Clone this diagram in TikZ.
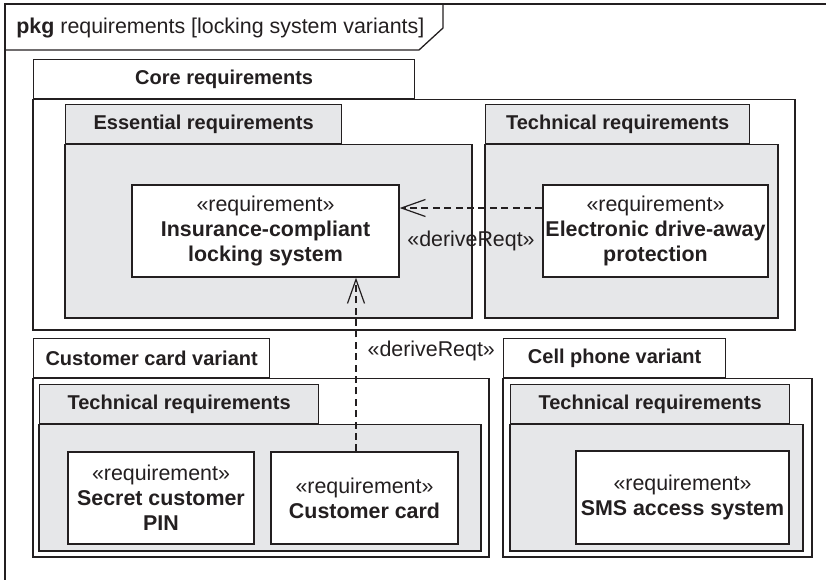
\documentclass[tikz,border=0pt]{standalone}
\usepackage{fontspec}
\setmainfont{Liberation Sans}
\usetikzlibrary{arrows.meta,positioning}
\definecolor{ink}{RGB}{35,31,32}
\definecolor{pkgfill}{RGB}{230,231,233}
\tikzset{
  tab/.style={draw=ink, fill=#1, line width=0.65pt, anchor=north west, inner sep=0pt,
              minimum height=19.5pt, font=\bfseries},
  tab/.default=white,
  body/.style={draw=ink, fill=#1, line width=0.65pt},
  body/.default=white,
  req/.style={draw=ink, fill=white, line width=0.65pt, align=center, inner sep=0pt,
              minimum width=#1, minimum height=46pt},
  req/.default=100pt,
  derive/.style={-{Straight Barb[length=12pt, width=8.5pt]}, ink, line width=0.6pt,
                 dash pattern=on 3.5pt off 2.2pt},
  lbl/.style={text=ink, inner sep=0pt},
}

\begin{document}
\begin{tikzpicture}[x=0.5pt, y=-0.5pt, text=ink, font=\fontsize{10.7}{12.5}\selectfont]
  \useasboundingbox (0,0) rectangle (826,580);
  % frame
  \draw[ink, line width=0.65pt] (826,4) -- (5,4) -- (5,580);
  \draw[ink, line width=0.65pt] (443,4) -- (443,28) -- (419,50) -- (5,50);
  \node[lbl, anchor=west] (frame) at (16,28) {\textbf{pkg} requirements [locking system variants]};

  % core requirements
  \node[tab, minimum width=190.5pt] (coretab) at (33,59) {Core requirements};
  \draw[body] (coretab.south west) rectangle (795,330);
  \node[tab=pkgfill, minimum width=138pt] (esstab) at (65,104) {Essential requirements};
  \draw[body=pkgfill] (esstab.south west) rectangle (472,318);
  \node[tab=pkgfill, minimum width=132pt] (techtab) at (485,104) {Technical requirements};
  \draw[body=pkgfill] (techtab.south west) rectangle (778,318);
  \node[req=133.5pt] (ins) at (265.5,231) {«requirement»\\ \textbf{Insurance-compliant}\\ \textbf{locking system}};
  \node[req=112.5pt] (eda) at (655.5,231) {«requirement»\\ \textbf{Electronic drive-away}\\ \textbf{protection}};

  % customer card variant
  \node[tab, minimum width=118pt] (cardtab) at (33,338) {Customer card variant};
  \draw[body] (cardtab.south west) rectangle (489,557);
  \node[tab=pkgfill, minimum width=139.5pt] (cardtech) at (39,384) {Technical requirements};
  \draw[body=pkgfill] (cardtech.south west) rectangle (481,551);
  \node[req=93pt] (pin) at (161,498) {«requirement»\\ \textbf{Secret customer}\\ \textbf{PIN}};
  \node[req=93.5pt] (card) at (364.5,498) {«requirement»\\ \textbf{Customer card}};

  % cell phone variant
  \node[tab, minimum width=111pt] (phonetab) at (503,338) {Cell phone variant};
  \draw[body] (phonetab.south west) rectangle (812,557);
  \node[tab=pkgfill, minimum width=139.5pt] (phonetech) at (510,384) {Technical requirements};
  \draw[body=pkgfill] (phonetech.south west) rectangle (803,551);
  \node[req=106.5pt, minimum height=46.5pt] (sms) at (682.5,497.5) {«requirement»\\ \textbf{SMS access system}};

  % deriveReqt
  \draw[derive] ([yshift=11.5pt]eda.west) -- ([yshift=11.5pt]eda.west -| ins.east)
    node[lbl, midway, yshift=-16.5pt] (dh) {«deriveReqt»};
  \draw[derive] ([xshift=-4.25pt]card.north) -- ([xshift=-4.25pt]card.north |- ins.south)
    node[lbl, pos=0.58, anchor=west, xshift=5.5pt] (dv) {«deriveReqt»};
\end{tikzpicture}
\end{document}
